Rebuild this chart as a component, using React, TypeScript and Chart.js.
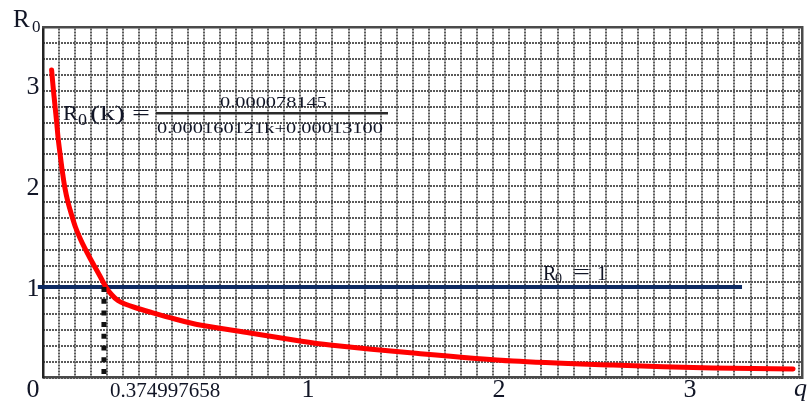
import React, { useEffect, useRef } from "react";
import { Chart, registerables } from "chart.js";

Chart.register(...registerables);

// Red curve R0(k) (x in axis units, y in R0 units)
const curveX = [-0.3419, -0.3335, -0.3246, -0.3157, -0.3073, -0.2969, -0.2853, -0.2723, -0.2565, -0.2372, -0.2173, -0.1937, -0.1675, -0.1414, -0.1152, -0.089, -0.0576, -0.0262, 0.0052, 0.0419, 0.0942, 0.1728, 0.3037, 0.4346, 0.6963, 0.9581, 1.1152, 1.5497, 2.0733, 2.5969, 3.1204, 3.5393];
const curveY = [3.1485, 2.9703, 2.802, 2.6337, 2.4653, 2.3069, 2.1386, 1.9802, 1.8416, 1.7129, 1.5941, 1.4851, 1.3812, 1.2871, 1.198, 1.109, 1.0, 0.9208, 0.8663, 0.8317, 0.797, 0.7525, 0.6832, 0.6238, 0.5446, 0.4653, 0.4257, 0.3465, 0.2673, 0.2277, 0.198, 0.1881];

// Horizontal line R0 = 1
const levelX = [-0.414, 3.272];
const levelY = [1, 1];

// Dotted marker at the crossing
const markerX = -0.068;
const markerY = [1, 0.104];
const markerLabel = "0.374997658";

// Axis ranges and tick labels
const xRange = [-0.387, 3.586];
const yRange = [0.104, 3.574];
const xTicks = [1, 2, 3];
const yTicks = [0, 1, 2, 3];

// Background grid cell counts
const gridCols = 47.2;
const gridRows = 22;

const TEXT = "#111526";
const FONT = '"Liberation Serif", "Times New Roman", serif';

function txt(
  ctx: CanvasRenderingContext2D,
  s: string,
  x: number,
  y: number,
  size: number,
  opts: { align?: "left" | "center" | "right"; width?: number; italic?: boolean; color?: string } = {}
) {
  ctx.save();
  ctx.font = `${opts.italic ? "italic " : ""}${size}px ${FONT}`;
  ctx.fillStyle = opts.color || TEXT;
  ctx.textBaseline = "alphabetic";
  ctx.textAlign = "left";
  const w = ctx.measureText(s).width;
  const sx = opts.width ? opts.width / w : 1;
  const dw = w * sx;
  let left = x;
  if (opts.align === "center") left = x - dw / 2;
  else if (opts.align === "right") left = x - dw;
  ctx.translate(left, y);
  ctx.scale(sx, 1);
  ctx.fillText(s, 0, 0);
  ctx.restore();
}

const textPlugin = {
  id: "texts",
  afterDraw(chart: any) {
    const ctx: CanvasRenderingContext2D = chart.ctx;
    const xs = chart.scales.x;
    const ys = chart.scales.y;
    // y tick labels
    yTicks.forEach((v) => {
      const py = ys.getPixelForValue(v);
      txt(ctx, String(v), 33, py + 8.8, 26, { align: "center" });
    });
    // x tick labels
    xTicks.forEach((v) => {
      const px = xs.getPixelForValue(v);
      txt(ctx, String(v), px, 397, 26, { align: "center" });
    });
    // marker label
    txt(ctx, markerLabel, xs.getPixelForValue(markerX) + 6, 397, 21, { align: "left" });
    // x axis name (cut at the edge)
    txt(ctx, "q", 794, 396, 26, { italic: true });
    // y axis name
    txt(ctx, "R", 13, 27, 25);
    txt(ctx, "0", 32, 32, 17);

    // formula
    txt(ctx, "R", 63, 120, 22, { width: 15 });
    txt(ctx, "0", 78, 125, 17, { width: 9 });
    txt(ctx, "(k)", 90, 120, 22, { width: 35 });
    txt(ctx, "=", 132, 120, 22, { width: 18 });
    ctx.save();
    ctx.fillStyle = "#2a2a2a";
    ctx.fillRect(156, 112, 232, 2.5);
    ctx.restore();
    txt(ctx, "0.000078145", 273.5, 107, 15, { align: "center", width: 107 });
    txt(ctx, "0.000160121k+0.00013100", 157, 133, 15, { width: 226 });

    // R0 = 1 label
    const ly = ys.getPixelForValue(1);
    txt(ctx, "R", 543, ly - 7, 20);
    txt(ctx, "0", 555, ly - 4, 14);
    txt(ctx, "=", 573, ly - 8, 20, { width: 17 });
    txt(ctx, "1", 597, ly - 7, 20);
  },
};

export default function App() {
  const ref = useRef<HTMLCanvasElement | null>(null);

  useEffect(() => {
    if (!ref.current) return;
    const gridScale = (position: string, max: number) => ({
      type: "linear" as const,
      position,
      min: 0,
      max,
      display: true,
      grid: { display: true, color: "#5a5a5a", lineWidth: 2, drawTicks: false },
      border: { display: true, color: "#4a4a4a", width: 2.5, dash: [2, 1] },
      ticks: { display: false, stepSize: 1, includeBounds: false, autoSkip: false, maxTicksLimit: 1000 },
    });
    const chart = new Chart(ref.current, {
      type: "line",
      data: {
        datasets: [
          {
            data: markerY.map((y) => ({ x: markerX, y })),
            borderColor: "#111111",
            borderWidth: 5,
            borderDash: [5, 6.7],
            pointRadius: 0,
            fill: false,
          },
          {
            data: curveX.map((x, i) => ({ x, y: curveY[i] })),
            borderColor: "#ff0000",
            borderWidth: 5,
            borderCapStyle: "round",
            borderJoinStyle: "round",
            tension: 0.3,
            pointRadius: 0,
            fill: false,
          },
          {
            data: levelX.map((x, i) => ({ x, y: levelY[i] })),
            borderColor: "#0d2a62",
            borderWidth: 4,
            pointRadius: 0,
            fill: false,
            clip: false,
          },
        ],
      } as any,
      options: {
        responsive: false,
        animation: false,
        devicePixelRatio: 1,
        layout: { padding: { left: 43, top: 27, right: 5, bottom: 25.5 } },
        plugins: { legend: { display: false }, tooltip: { enabled: false } },
        scales: {
          x: {
            type: "linear",
            position: "bottom",
            min: xRange[0],
            max: xRange[1],
            grid: { display: false, drawTicks: false },
            border: { display: true, color: "#4a4a4a", width: 2.5 },
            ticks: { display: false },
          },
          y: {
            type: "linear",
            position: "left",
            min: yRange[0],
            max: yRange[1],
            grid: { display: false, drawTicks: false },
            border: { display: true, color: "#222222", width: 2.5 },
            ticks: { display: false },
          },
          gx: gridScale("top", gridCols),
          gy: gridScale("right", gridRows),
        } as any,
      },
      plugins: [textPlugin],
    });
    return () => chart.destroy();
  }, []);

  return (
    <div style={{ position: "absolute", left: 0, top: 0, width: 807, height: 403, background: "#fff" }}>
      <canvas ref={ref} width={807} height={403} style={{ display: "block" }} />
    </div>
  );
}
